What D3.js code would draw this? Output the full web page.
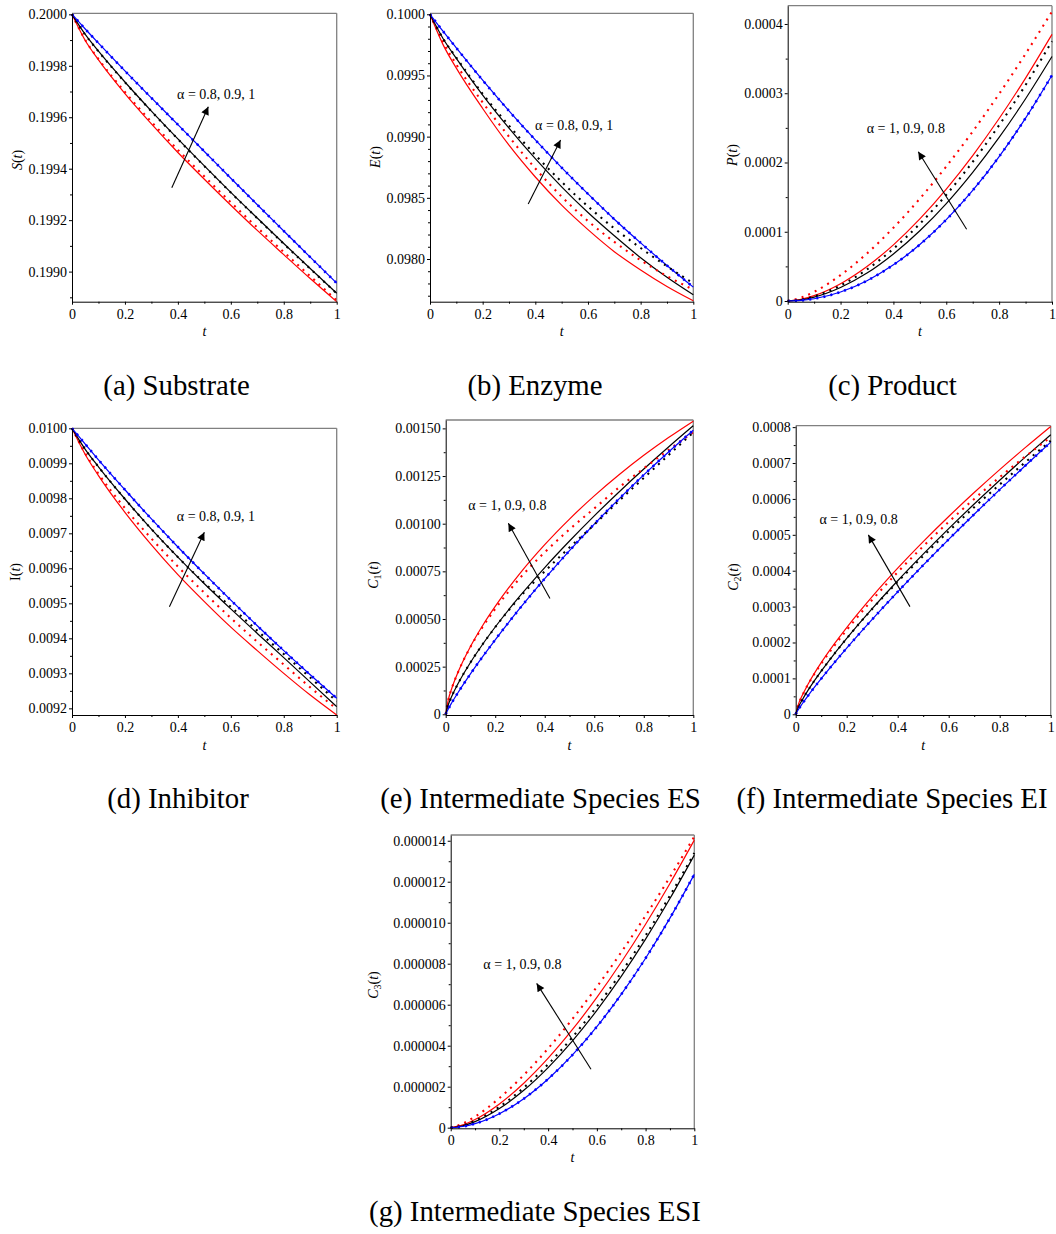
<!DOCTYPE html>
<html><head><meta charset="utf-8">
<script src="https://cdn.jsdelivr.net/npm/d3@7"></script>
<style>
body{margin:0;background:#fff}
svg text{font-family:"Liberation Serif","Times New Roman",serif;fill:#000}
</style>
</head><body>
<svg id="chart" width="1056" height="1234"></svg>
<script>
// ---------------- data ----------------
const tGrid = [0, 0.05, 0.1, 0.2, 0.3, 0.4, 0.5, 0.6, 0.7, 0.8, 0.9, 1];
const tFine = [0, 0.01, 0.025, 0.05, 0.1, 0.15, 0.2, 0.3, 0.4, 0.5, 0.6, 0.7, 0.8, 0.9, 1];

// (a) Substrate S(t)   (grid: tGrid)
const subRed      = [0.2000,0.199898,0.199823,0.199692,0.199574,0.199463,0.199359,0.199258,0.199160,0.199066,0.198973,0.198883];
const subRedDot   = [0.2000,0.199900,0.199826,0.199698,0.199582,0.199473,0.199370,0.199269,0.199171,0.199076,0.198982,0.198888];
const subBlack    = [0.2000,0.199922,0.199857,0.199737,0.199624,0.199516,0.199411,0.199308,0.199208,0.199109,0.199012,0.198916];
const subBlackDot = [0.2000,0.199921,0.199856,0.199736,0.199623,0.199515,0.199410,0.199307,0.199207,0.199108,0.199011,0.198915];
const subBlue     = [0.2000,0.199943,0.199888,0.199780,0.199675,0.199571,0.199467,0.199363,0.199260,0.199158,0.199056,0.198955];
const subBlueDot  = [0.2000,0.199943,0.199888,0.199780,0.199675,0.199571,0.199467,0.199363,0.199260,0.199158,0.199056,0.198955];

// (b) Enzyme E(t)   (grid: tGrid)
const enzRed      = [0.1000,0.09975,0.09956,0.09923,0.09893,0.09867,0.09844,0.09824,0.09806,0.09791,0.097775,0.097658];
const enzRedDot   = [0.1000,0.09977,0.09959,0.09928,0.09900,0.09874,0.09851,0.09831,0.09814,0.09799,0.09786,0.09775];
const enzBlack    = [0.1000,0.09980,0.09964,0.09934,0.09907,0.09882,0.09859,0.09838,0.09819,0.09801,0.09785,0.097707];
const enzBlackDot = [0.1000,0.09980,0.099645,0.09935,0.09909,0.09885,0.09863,0.09843,0.09825,0.09809,0.09794,0.097802];
const enzBlue     = [0.1000,0.09986,0.099725,0.099461,0.09921,0.098973,0.098747,0.098532,0.098325,0.098132,0.097947,0.09777];
const enzBlueDot  = [0.1000,0.09986,0.099725,0.099461,0.09921,0.098973,0.098747,0.098532,0.098325,0.098132,0.097947,0.09777];

// (c) Product P(t)   (grid: tGrid)
const prodRed      = [0,2.3e-6,7.7e-6,2.50e-5,4.98e-5,8.11e-5,1.185e-4,1.616e-4,2.100e-4,2.635e-4,3.219e-4,3.85e-4];
const prodRedDot   = [0,4.7e-6,1.32e-5,3.74e-5,6.87e-5,1.058e-4,1.478e-4,1.943e-4,2.448e-4,2.991e-4,3.569e-4,4.18e-4];
const prodBlack    = [0,1.6e-6,5.6e-6,1.95e-5,4.03e-5,6.79e-5,1.014e-4,1.407e-4,1.858e-4,2.362e-4,2.920e-4,3.53e-4];
const prodBlackDot = [0,2.0e-6,6.7e-6,2.24e-5,4.56e-5,7.55e-5,1.115e-4,1.534e-4,2.009e-4,2.539e-4,3.119e-4,3.75e-4];
const prodBlue     = [0,0.8e-6,3.3e-6,1.30e-5,2.93e-5,5.22e-5,8.15e-5,1.174e-4,1.597e-4,2.086e-4,2.641e-4,3.26e-4];
const prodBlueDot  = [0,0.8e-6,3.3e-6,1.30e-5,2.93e-5,5.22e-5,8.15e-5,1.174e-4,1.597e-4,2.086e-4,2.641e-4,3.26e-4];

// (d) Inhibitor I(t)   (grid: tGrid)
const inhRed      = [0.0100,0.009925,0.009865,0.009760,0.009667,0.009582,0.009505,0.009432,0.009365,0.009300,0.009238,0.009181];
const inhRedDot   = [0.0100,0.009928,0.009870,0.009772,0.009685,0.009605,0.009530,0.009458,0.009390,0.009325,0.009260,0.009198];
const inhBlack    = [0.0100,0.009940,0.009890,0.009798,0.009712,0.009632,0.009556,0.009484,0.009414,0.009345,0.009275,0.009205];
const inhBlackDot = [0.0100,0.009940,0.009890,0.009798,0.009712,0.009632,0.009558,0.009490,0.009422,0.009355,0.009288,0.009220];
const inhBlue     = [0.0100,0.009955,0.009910,0.0098245,0.009741,0.009661,0.009584,0.009509,0.009436,0.009365,0.009296,0.009229];
const inhBlueDot  = [0.0100,0.009955,0.009910,0.0098245,0.009741,0.009661,0.009584,0.009509,0.009436,0.009365,0.009296,0.009229];

// (e) Intermediate ES C1(t)   (grid: tFine)
const esRed      = [0,7.34e-5,1.380e-4,2.219e-4,3.558e-4,4.674e-4,5.66e-4,7.394e-4,8.90e-4,1.0243e-3,1.146e-3,1.2567e-3,1.3586e-3,1.452e-3,1.538e-3];
const esRedDot   = [0,7.34e-5,1.380e-4,2.210e-4,3.530e-4,4.600e-4,5.53e-4,7.150e-4,8.50e-4,0.9700e-3,1.080e-3,1.1900e-3,1.2900e-3,1.387e-3,1.480e-3];
const esBlack    = [0,4.80e-5,9.58e-5,1.613e-4,2.718e-4,3.689e-4,4.58e-4,6.210e-4,7.70e-4,0.9092e-3,1.041e-3,1.1665e-3,1.2867e-3,1.4023e-3,1.514e-3];
const esBlackDot = [0,4.80e-5,9.58e-5,1.613e-4,2.718e-4,3.689e-4,4.57e-4,6.150e-4,7.50e-4,0.8750e-3,0.995e-3,1.1200e-3,1.2400e-3,1.360e-3,1.479e-3];
const esBlue     = [0,2.69e-5,6.15e-5,1.142e-4,2.119e-4,3.035e-4,3.91e-4,5.564e-4,7.115e-4,0.8585e-3,0.998e-3,1.1303e-3,1.256e-3,1.376e-3,1.490e-3];
const esBlueDot  = [0,2.69e-5,6.15e-5,1.142e-4,2.119e-4,3.035e-4,3.91e-4,5.564e-4,7.115e-4,0.8585e-3,0.998e-3,1.1303e-3,1.256e-3,1.376e-3,1.490e-3];

// (f) Intermediate EI C2(t)   (grid: tFine)
const eiRed      = [0,2.633e-5,5.144e-5,8.58e-5,1.4372e-4,1.9472e-4,2.417e-4,3.2782e-4,4.07e-4,4.8098e-4,5.51e-4,6.1772e-4,6.816e-4,7.4296e-4,8.02e-4];
const eiRedDot   = [0,2.633e-5,5.10e-5,8.50e-5,1.407e-4,1.897e-4,2.347e-4,3.188e-4,3.96e-4,4.68e-4,5.36e-4,6.00e-4,6.606e-4,7.18e-4,7.72e-4];
const eiBlack    = [0,1.896e-5,3.933e-5,6.856e-5,1.2014e-4,1.6709e-4,2.113e-4,2.9419e-4,3.72e-4,4.4607e-4,5.172e-4,5.8574e-4,6.521e-4,7.1644e-4,7.79e-4];
const eiBlackDot = [0,1.896e-5,3.933e-5,6.856e-5,1.2014e-4,1.6709e-4,2.113e-4,2.935e-4,3.69e-4,4.41e-4,5.10e-4,5.77e-4,6.40e-4,7.02e-4,7.62e-4];
const eiBlue     = [0,1.252e-5,2.858e-5,5.325e-5,9.914e-5,1.425e-4,1.843e-4,2.6446e-4,3.411e-4,4.1536e-4,4.874e-4,5.5739e-4,6.258e-4,6.9259e-4,7.58e-4];
const eiBlueDot  = [0,1.252e-5,2.858e-5,5.325e-5,9.914e-5,1.425e-4,1.843e-4,2.6446e-4,3.411e-4,4.1536e-4,4.874e-4,5.5739e-4,6.258e-4,6.9259e-4,7.58e-4];

// (g) Intermediate ESI C3(t)   (grid: tGrid)
const esiRed      = [0,1.35e-7,3.96e-7,1.157e-6,2.170e-6,3.390e-6,4.791e-6,6.356e-6,8.071e-6,9.928e-6,1.1916e-5,1.403e-5];
const esiRedDot   = [0,2.02e-7,5.40e-7,1.444e-6,2.569e-6,3.865e-6,5.307e-6,6.874e-6,8.557e-6,1.0343e-5,1.2228e-5,1.420e-5];
const esiBlack    = [0,9.5e-8,2.98e-7,9.34e-7,1.823e-6,2.933e-6,4.237e-6,5.726e-6,7.384e-6,9.202e-6,1.1180e-5,1.330e-5];
const esiBlackDot = [0,1.11e-7,3.36e-7,1.021e-6,1.952e-6,3.093e-6,4.421e-6,5.917e-6,7.572e-6,9.377e-6,1.1320e-5,1.340e-5];
const esiBlue     = [0,5.7e-8,1.96e-7,6.82e-7,1.413e-6,2.378e-6,3.550e-6,4.928e-6,6.505e-6,8.269e-6,1.0224e-5,1.236e-5];
const esiBlueDot  = [0,5.7e-8,1.96e-7,6.82e-7,1.413e-6,2.378e-6,3.550e-6,4.928e-6,6.505e-6,8.269e-6,1.0224e-5,1.236e-5];

// tick values & labels
const xTicks  = [0, 0.2, 0.4, 0.6, 0.8, 1];
const xLabels = ["0", "0.2", "0.4", "0.6", "0.8", "1"];
const xMinor  = [0.1, 0.3, 0.5, 0.7, 0.9];

const yTicksA  = [0.1990, 0.1992, 0.1994, 0.1996, 0.1998, 0.2000];
const yLabelsA = ["0.1990", "0.1992", "0.1994", "0.1996", "0.1998", "0.2000"];
const yTicksB  = [0.0980, 0.0985, 0.0990, 0.0995, 0.1000];
const yLabelsB = ["0.0980", "0.0985", "0.0990", "0.0995", "0.1000"];
const yTicksC  = [0, 0.0001, 0.0002, 0.0003, 0.0004];
const yLabelsC = ["0", "0.0001", "0.0002", "0.0003", "0.0004"];
const yTicksD  = [0.0092, 0.0093, 0.0094, 0.0095, 0.0096, 0.0097, 0.0098, 0.0099, 0.0100];
const yLabelsD = ["0.0092", "0.0093", "0.0094", "0.0095", "0.0096", "0.0097", "0.0098", "0.0099", "0.0100"];
const yTicksE  = [0, 0.00025, 0.0005, 0.00075, 0.001, 0.00125, 0.0015];
const yLabelsE = ["0", "0.00025", "0.00050", "0.00075", "0.00100", "0.00125", "0.00150"];
const yTicksF  = [0, 0.0001, 0.0002, 0.0003, 0.0004, 0.0005, 0.0006, 0.0007, 0.0008];
const yLabelsF = ["0", "0.0001", "0.0002", "0.0003", "0.0004", "0.0005", "0.0006", "0.0007", "0.0008"];
const yTicksG  = [0, 2e-6, 4e-6, 6e-6, 8e-6, 10e-6, 12e-6, 14e-6];
const yLabelsG = ["0", "0.000002", "0.000004", "0.000006", "0.000008", "0.000010", "0.000012", "0.000014"];

const alphaUp   = "α = 0.8, 0.9, 1";
const alphaDown = "α = 1, 0.9, 0.8";

// ---------------- layout ----------------
const panels = [
  {t:tGrid, xr:[72,336.7], yr:[301.7,13.3], yd:[0.198883,0.200004], yt:yTicksA, yl:yLabelsA, minorStep:0.0001,
   s:[subRed,subBlack,subBlue,subRedDot,subBlackDot,subBlueDot],
   lab:[{t:"S",i:1},{t:"("},{t:"t",i:1},{t:")"}], labPos:[17,160], xlabY:331,
   ann:{text:alphaUp, at:[0.397,0.19969], from:[0.377,0.199326], to:[0.515,0.199641]},
   cap:"(a) Substrate", capX:176.5, capY:395},
  {t:tGrid, xr:[430,693.3], yr:[301.7,13.3], yd:[0.097651,0.100008], yt:yTicksB, yl:yLabelsB, minorStep:0.0001,
   s:[enzRed,enzBlack,enzBlue,enzRedDot,enzBlackDot,enzBlueDot],
   lab:[{t:"E",i:1},{t:"("},{t:"t",i:1},{t:")"}], labPos:[375,157], xlabY:331,
   ann:{text:alphaUp, at:[0.399,0.099087], from:[0.373,0.09845], to:[0.496,0.098973]},
   cap:"(b) Enzyme", capX:535, capY:395},
  {t:tGrid, xr:[787.7,1052], yr:[301.7,5.7], yd:[-0.000001,0.0004264], yt:yTicksC, yl:yLabelsC, minorStep:0.00005,
   s:[prodRed,prodBlack,prodBlue,prodRedDot,prodBlackDot,prodBlueDot],
   lab:[{t:"P",i:1},{t:"("},{t:"t",i:1},{t:")"}], labPos:[732,155], xlabY:331,
   ann:{text:alphaDown, at:[0.299,2.484e-4], from:[0.677,1.035e-4], to:[0.494,2.156e-4]},
   cap:"(c) Product", capX:892.5, capY:395},
  {t:tGrid, xr:[72,336.7], yr:[715,428.3], yd:[0.009181,0.0100], yt:yTicksD, yl:yLabelsD, minorStep:0.00005,
   s:[inhRed,inhBlack,inhBlue,inhRedDot,inhBlackDot,inhBlueDot],
   lab:[{t:"I"},{t:"("},{t:"t",i:1},{t:")"}], labPos:[15,572], xlabY:745,
   ann:{text:alphaUp, at:[0.396,0.009747], from:[0.368,0.00949], to:[0.5,0.009703]},
   cap:"(d) Inhibitor", capX:178, capY:808},
  {t:tFine, xr:[445.7,693.3], yr:[715,420], yd:[-0.0000037,0.001544], yt:yTicksE, yl:yLabelsE, minorStep:0.000125,
   s:[esRed,esBlack,esBlue,esRedDot,esBlackDot,esBlueDot],
   lab:[{t:"C",i:1},{t:"1",sub:1},{t:"("},{t:"t",i:1},{t:")"}], labPos:[373,575], xlabY:745,
   ann:{text:alphaDown, at:[0.091,0.001094], from:[0.421,0.000608], to:[0.253,0.001002]},
   cap:"(e) Intermediate Species ES", capX:540.5, capY:808},
  {t:tFine, xr:[795.7,1050.7], yr:[715,425.7], yd:[-0.000002,0.000804], yt:yTicksF, yl:yLabelsF, minorStep:0.00005,
   s:[eiRed,eiBlack,eiBlue,eiRedDot,eiBlackDot,eiBlueDot],
   lab:[{t:"C",i:1},{t:"2",sub:1},{t:"("},{t:"t",i:1},{t:")"}], labPos:[733,577], xlabY:745,
   ann:{text:alphaDown, at:[0.093,5.436e-4], from:[0.448,3.0e-4], to:[0.285,4.998e-4]},
   cap:"(f) Intermediate Species EI", capX:892, capY:808},
  {t:tGrid, xr:[450.7,694.3], yr:[1128.3,835], yd:[-0.00000003,0.00001428], yt:yTicksG, yl:yLabelsG, minorStep:1e-6,
   s:[esiRed,esiBlack,esiBlue,esiRedDot,esiBlackDot,esiBlueDot],
   lab:[{t:"C",i:1},{t:"3",sub:1},{t:"("},{t:"t",i:1},{t:")"}], labPos:[373,985], xlabY:1157,
   ann:{text:alphaDown, at:[0.134,7.94e-6], from:[0.576,2.85e-6], to:[0.353,7.04e-6]},
   cap:"(g) Intermediate Species ESI", capX:535, capY:1221}
];

const colors = ["#ff0000", "#000000", "#0000ff", "#ff0000", "#000000", "#0000ff"];

const svg = d3.select("#chart");
svg.append("defs").append("marker")
  .attr("id", "ah").attr("viewBox", "0 0 10 10").attr("refX", 10).attr("refY", 5)
  .attr("markerWidth", 10).attr("markerHeight", 8).attr("markerUnits", "userSpaceOnUse")
  .attr("orient", "auto")
  .append("path").attr("d", "M0,0L10,5L0,10Z").attr("fill", "#000");

function styleAxis(ax) {
  ax.attr("font-family", null).attr("font-size", null);
  ax.selectAll("text").style("font-size", "14px").style("fill", "#000");
  ax.selectAll("line").attr("stroke", "#000");
  ax.select(".domain").attr("stroke", "#000");
}

panels.forEach(p => {
  const x = d3.scaleLinear().domain([0, 1]).range(p.xr);
  const y = d3.scaleLinear().domain(p.yd).range(p.yr);
  const g = svg.append("g");

  // gray top/right frame
  g.append("line").attr("x1", p.xr[0]).attr("x2", p.xr[1]).attr("y1", p.yr[1]).attr("y2", p.yr[1])
    .attr("stroke", "#808080").attr("stroke-width", 1.3);
  g.append("line").attr("x1", p.xr[1]).attr("x2", p.xr[1]).attr("y1", p.yr[0]).attr("y2", p.yr[1])
    .attr("stroke", "#808080").attr("stroke-width", 1.3);

  // curves
  const line = d3.line().x((d, i) => x(p.t[i])).y(d => y(d)).curve(d3.curveMonotoneX);
  const cg = g.append("g");
  p.s.forEach((arr, k) => {
    const dotted = k >= 3;
    cg.append("path").datum(arr)
      .attr("d", line)
      .attr("fill", "none")
      .attr("stroke", colors[k])
      .attr("stroke-width", dotted ? (k === 5 ? 2.6 : 2.1) : 1.2)
      .attr("stroke-dasharray", dotted ? "2,5.2" : null);
  });

  // minor ticks
  const [lo, hi] = d3.extent(p.yd);
  const minorVals = d3.range(Math.ceil(lo / p.minorStep - 1e-6), Math.floor(hi / p.minorStep + 1e-6) + 1)
    .map(k => k * p.minorStep).filter(v => !p.yt.some(t => Math.abs(t - v) < p.minorStep * 0.01));
  g.append("g").attr("transform", `translate(${p.xr[0]},0)`)
    .call(d3.axisLeft(y).tickValues(minorVals).tickSize(2).tickFormat(""))
    .call(a => { a.select(".domain").remove(); a.selectAll("line").attr("stroke", "#000"); });
  g.append("g").attr("transform", `translate(0,${p.yr[0]})`)
    .call(d3.axisBottom(x).tickValues(xMinor).tickSize(2).tickFormat(""))
    .call(a => { a.select(".domain").remove(); a.selectAll("line").attr("stroke", "#000"); });

  // major axes
  g.append("g").attr("transform", `translate(${p.xr[0]},0)`)
    .call(d3.axisLeft(y).tickValues(p.yt).tickFormat((d, i) => p.yl[i]).tickSize(3).tickSizeOuter(0).tickPadding(2))
    .call(styleAxis);
  g.append("g").attr("transform", `translate(0,${p.yr[0]})`)
    .call(d3.axisBottom(x).tickValues(xTicks).tickFormat((d, i) => xLabels[i]).tickSize(3).tickSizeOuter(0).tickPadding(4))
    .call(styleAxis);

  // x axis title
  g.append("text").attr("x", x(0.5)).attr("y", p.xlabY).attr("text-anchor", "middle")
    .attr("dominant-baseline", "central").style("font-size", "14px").style("font-style", "italic").text("t");

  // y axis title
  const yt = g.append("text").attr("transform", `translate(${p.labPos[0]},${p.labPos[1]}) rotate(-90)`)
    .attr("text-anchor", "middle").attr("dominant-baseline", "central").style("font-size", "14px");
  p.lab.forEach(part => {
    const ts = yt.append("tspan").text(part.t);
    if (part.i) ts.style("font-style", "italic");
    if (part.sub) ts.style("font-size", "10px").attr("dy", "4");
    else if (part.t === "(" && p.lab.some(q => q.sub)) ts.attr("dy", "-4");
  });

  // annotation
  g.append("line")
    .attr("x1", x(p.ann.from[0])).attr("y1", y(p.ann.from[1]))
    .attr("x2", x(p.ann.to[0])).attr("y2", y(p.ann.to[1]))
    .attr("stroke", "#000").attr("stroke-width", 1.1).attr("marker-end", "url(#ah)");
  g.append("text").attr("x", x(p.ann.at[0])).attr("y", y(p.ann.at[1]))
    .attr("dominant-baseline", "central").style("font-size", "14px").text(p.ann.text);

  // caption
  svg.append("text").attr("x", p.capX).attr("y", p.capY).attr("text-anchor", "middle")
    .style("font-size", "28.8px").text(p.cap);
});
</script>
</body></html>
